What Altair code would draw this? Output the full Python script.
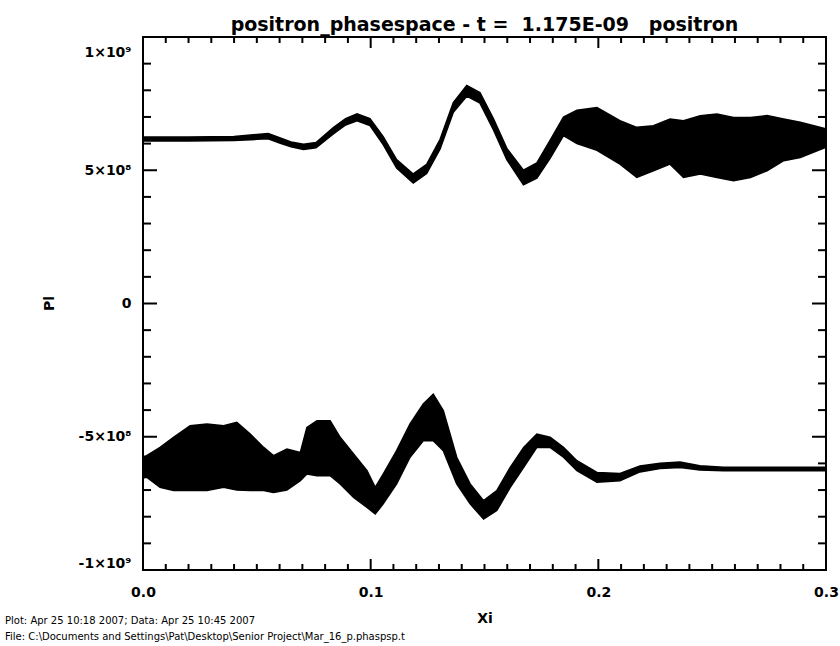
import altair as alt
import pandas as pd

# ---- data (Pl in units of 1e9) ----
X_UP = [0.000, 0.020, 0.040, 0.050, 0.055, 0.060, 0.065, 0.0705, 0.076, 0.0836, 0.089, 0.094,
        0.0997, 0.1055, 0.1114, 0.1187, 0.1246, 0.1305, 0.1363, 0.1422, 0.1480, 0.1539, 0.1598,
        0.1671, 0.1730, 0.1788, 0.1847, 0.1906, 0.1994, 0.2095, 0.2169, 0.2242, 0.2315, 0.2374,
        0.2448, 0.2521, 0.2594, 0.2668, 0.2741, 0.2814, 0.2887, 0.3000]
UP_LO = [0.610, 0.610, 0.612, 0.616, 0.618, 0.602, 0.588, 0.578, 0.584, 0.636, 0.670, 0.686,
         0.668, 0.596, 0.508, 0.452, 0.488, 0.580, 0.718, 0.778, 0.752, 0.652, 0.540,
         0.445, 0.470, 0.545, 0.630, 0.600, 0.575, 0.523, 0.473, 0.498, 0.523, 0.473,
         0.486, 0.473, 0.461, 0.473, 0.498, 0.536, 0.548, 0.586]
UP_HI = [0.625, 0.625, 0.627, 0.634, 0.638, 0.622, 0.606, 0.598, 0.604, 0.660, 0.694, 0.712,
         0.694, 0.626, 0.540, 0.486, 0.522, 0.616, 0.754, 0.818, 0.792, 0.694, 0.582,
         0.500, 0.528, 0.612, 0.700, 0.725, 0.735, 0.686, 0.661, 0.667, 0.692, 0.686,
         0.705, 0.711, 0.698, 0.698, 0.705, 0.692, 0.680, 0.655]

X_LOW = [0.000, 0.0016, 0.0075, 0.0134, 0.0207, 0.0281, 0.0354, 0.0412, 0.0471, 0.0530, 0.0573,
         0.0632, 0.0691, 0.0720, 0.0764, 0.0822, 0.0866, 0.0925, 0.0984, 0.1020, 0.1055, 0.1114,
         0.1173, 0.1231, 0.1275, 0.1319, 0.1378, 0.1437, 0.1496, 0.1554, 0.1613, 0.1672, 0.1730,
         0.1788, 0.1847, 0.1906, 0.1994, 0.2095, 0.2183, 0.2271, 0.2359, 0.2446, 0.2550, 0.3000]
LOW_LO = [-0.655, -0.652, -0.690, -0.702, -0.702, -0.702, -0.690, -0.700, -0.702, -0.702, -0.709,
          -0.700, -0.665, -0.640, -0.646, -0.646, -0.677, -0.728, -0.765, -0.790, -0.752, -0.677,
          -0.577, -0.515, -0.515, -0.552, -0.677, -0.752, -0.809, -0.777, -0.690, -0.615, -0.540,
          -0.540, -0.577, -0.627, -0.671, -0.665, -0.632, -0.619, -0.615, -0.625, -0.628, -0.628]
LOW_HI = [-0.575, -0.571, -0.540, -0.502, -0.459, -0.452, -0.459, -0.446, -0.490, -0.540, -0.571,
          -0.546, -0.559, -0.465, -0.440, -0.440, -0.502, -0.565, -0.627, -0.690, -0.640, -0.552,
          -0.452, -0.377, -0.340, -0.402, -0.577, -0.677, -0.740, -0.702, -0.615, -0.540, -0.490,
          -0.502, -0.540, -0.590, -0.634, -0.638, -0.610, -0.599, -0.595, -0.609, -0.614, -0.614]

X_MAJOR = [0.0, 0.1, 0.2, 0.3]
X_MINOR = [round(i * 0.01, 2) for i in range(31) if i % 10 != 0]
Y_MAJOR = [-1.0, -0.5, 0.0, 0.5, 1.0]
Y_MINOR = [round(i * 0.1, 1) for i in range(-10, 11) if i % 5 != 0]

TITLE = "positron_phasespace - t =\u00a0 1.175E-09 \u00a0 positron"
FOOTER = ["Plot: Apr 25 10:18 2007; Data: Apr 25 10:45 2007",
          "File: C:\\Documents and Settings\\Pat\\Desktop\\Senior Project\\Mar_16_p.phaspsp.t"]

W, H = 683, 533
FONT = "DejaVu Sans"

bands = pd.concat([
    pd.DataFrame({"xi": X_UP, "lo": UP_LO, "hi": UP_HI, "band": "upper"}),
    pd.DataFrame({"xi": X_LOW, "lo": LOW_LO, "hi": LOW_HI, "band": "lower"}),
])

xs = alt.Scale(domain=[0, 0.3], nice=False, zero=False)
ys = alt.Scale(domain=[-1, 1], nice=False, zero=False)

ylabel = ("datum.value == 1 ? '1×10⁹' : datum.value == 0.5 ? '5×10⁸' : "
          "datum.value == 0 ? '0' : datum.value == -0.5 ? '-5×10⁸' : '-1×10⁹'")

axis_style = dict(labelFont=FONT, labelFontSize=14, labelFontWeight="bold", labelColor="black",
                  titleFont=FONT, titleFontSize=14, titleFontWeight="bold", titleColor="black",
                  ticks=False, domain=False, grid=False)
xaxis = alt.Axis(values=X_MAJOR, format=".1f", title="Xi", labelPadding=15, labelFlush=False,
                 titleY=52, titleBaseline="alphabetic", **axis_style)
yaxis = alt.Axis(values=Y_MAJOR, labelExpr=ylabel, title="Pl", labelPadding=12, labelFlush=True,
                 labelOffset={"condition": {"test": "datum.value == 1", "value": 8}, "value": 0},
                 titleX=-94, titleY=266, titleBaseline="middle", titleAngle=-90, **axis_style)

band_layer = alt.Chart(bands).mark_area(
    color="black", stroke="black", strokeWidth=1.5, interpolate="linear"
).encode(
    x=alt.X("xi:Q", scale=xs, axis=xaxis),
    y=alt.Y("lo:Q", scale=ys, axis=yaxis),
    y2="hi:Q",
    detail="band:N",
)

def yticks(vals, length):
    d = pd.DataFrame({"v": vals})
    left = alt.Chart(d).mark_rule(color="black", strokeWidth=2).encode(
        y=alt.Y("v:Q", scale=ys, axis=yaxis), x=alt.value(0), x2=alt.value(length))
    right = alt.Chart(d).mark_rule(color="black", strokeWidth=2).encode(
        y=alt.Y("v:Q", scale=ys, axis=yaxis), x=alt.value(W), x2=alt.value(W - length))
    return [left, right]

def xticks(vals, length):
    d = pd.DataFrame({"v": vals})
    top = alt.Chart(d).mark_rule(color="black", strokeWidth=2).encode(
        x=alt.X("v:Q", scale=xs, axis=xaxis), y=alt.value(0), y2=alt.value(length))
    bottom = alt.Chart(d).mark_rule(color="black", strokeWidth=2).encode(
        x=alt.X("v:Q", scale=xs, axis=xaxis), y=alt.value(H), y2=alt.value(H - length))
    return [top, bottom]

foot = pd.DataFrame({"t": FOOTER})
foot1 = alt.Chart(foot.iloc[[0]]).mark_text(
    align="left", baseline="alphabetic", font=FONT, fontSize=10, color="black"
).encode(text="t:N", x=alt.value(-138), y=alt.value(587))
foot2 = alt.Chart(foot.iloc[[1]]).mark_text(
    align="left", baseline="alphabetic", font=FONT, fontSize=10, color="black"
).encode(text="t:N", x=alt.value(-138), y=alt.value(603))

layers = ([band_layer] + yticks(Y_MAJOR, 14) + yticks(Y_MINOR, 8)
          + xticks(X_MAJOR, 11) + xticks(X_MINOR, 6) + [foot1, foot2])

chart = alt.layer(*layers).properties(
    width=W, height=H,
    background="white",
    title=alt.TitleParams(TITLE, font=FONT, fontSize=19, fontWeight="bold", anchor="middle",
                          frame="group", color="black", baseline="alphabetic", offset=11, dy=25),
    autosize=alt.AutoSizeParams(type="none"),
    padding={"left": 143, "top": 37, "right": 14, "bottom": 76},
).configure_view(
    stroke="black", strokeWidth=2
)

chart.save("out.html", embed_options={"renderer": "svg", "actions": False})
